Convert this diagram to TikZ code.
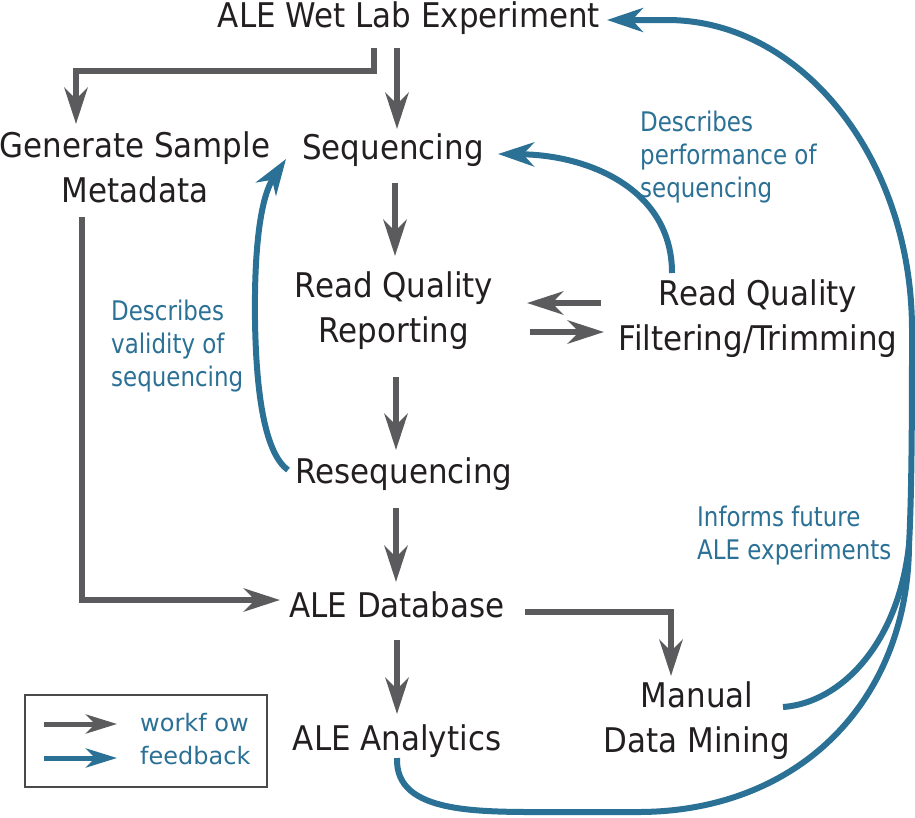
\documentclass[tikz,border=0pt]{standalone}
\usepackage{fontspec}
\setmainfont{DejaVu Sans}
\newfontfamily\mainf{DejaVu Sans}[FakeStretch=0.91]
\newfontfamily\bluef{DejaVu Sans}[FakeStretch=0.85]
\usetikzlibrary{arrows.meta}
\definecolor{wfgray}{HTML}{5B5B5E}
\definecolor{fbblue}{HTML}{2B7095}
\definecolor{txtblack}{HTML}{231F20}
\begin{document}
\begin{tikzpicture}[x=1pt,y=-1pt,
  lbl/.style={font=\mainf\fontsize{34}{45}\selectfont, text=txtblack, inner sep=0pt, align=center, anchor=base},
  note/.style={font=\bluef\fontsize{27}{33}\selectfont, text=fbblue, inner sep=0pt, align=left, anchor=base west},
  leg/.style={font=\fontsize{24}{30}\selectfont, text=fbblue, inner sep=0pt, anchor=base west},
  wf/.style={draw=wfgray, line width=6.5pt, -{Stealth[length=36pt,width=23pt,inset=11pt]}},
  fb/.style={draw=fbblue, line width=6pt, -{Stealth[length=36pt,width=24pt,inset=11pt]}},
  fbline/.style={draw=fbblue, line width=6pt},
  legwf/.style={draw=wfgray, line width=5pt, -{Stealth[length=31pt,width=19pt,inset=9pt]}},
  legfb/.style={draw=fbblue, line width=5pt, -{Stealth[length=31pt,width=19pt,inset=9pt]}}
]
\useasboundingbox (0,0) rectangle (915,817);

% nodes (multi-line nodes: base = baseline of last line)
\node[lbl] (wet) at (409,27) {ALE Wet Lab Experiment};
\node[lbl] (meta) at (135,202) {Generate Sample\\Metadata};
\node[lbl] (seq) at (393,159) {Sequencing};
\node[lbl] (rqr) at (394,342) {Read Quality\\Reporting};
\node[lbl] (rqf) at (758,350) {Read Quality\\Filtering/Trimming};
\node[lbl] (reseq) at (404,483) {Resequencing};
\node[lbl] (db) at (397,617) {ALE Database};
\node[lbl] (ana) at (397,750) {ALE Analytics};
\node[lbl] (mdm) at (697,752) {Manual\\Data Mining};

\node[note] (perf) at (640,197) {Describes\\performance of\\sequencing};
\node[note] (valid) at (111,386) {Describes\\validity of\\sequencing};
\node[note] (inform) at (697,559) {Informs future\\ALE experiments};

% connector end points
\coordinate (wetL) at (374,48);
\coordinate (metaIn) at (76,124);
\coordinate (wetB) at (397,48);
\coordinate (seqIn) at (397,129);
\coordinate (seqOut) at (395,183);
\coordinate (rqrIn) at (395,256);
\coordinate (rqrOut) at (396,377);
\coordinate (reseqIn) at (396,450);
\coordinate (reseqOut) at (396,508);
\coordinate (dbIn) at (396,582);
\coordinate (metaOut) at (82,217);
\coordinate (dbInL) at (280,600);
\coordinate (dbOutR) at (525,612);
\coordinate (mdmIn) at (671,676);
\coordinate (dbOut) at (397,640);
\coordinate (anaIn) at (397,714);
\coordinate (rqfL) at (601,303);
\coordinate (rqrR) at (527,303);
\coordinate (rqrR2) at (530,332);
\coordinate (rqfL2) at (604,332);
\coordinate (rqfTop) at (672,273);
\coordinate (seqR) at (498,154);
\coordinate (reseqL) at (288,470);
\coordinate (seqL) at (286,159);
\coordinate (mdmR) at (783,707);
\coordinate (wetR) at (607,20);
\coordinate (anaB) at (397,758);
\coordinate (merge) at (909,545);

% workflow connectors
\draw[wf] (wetL) -- ++(0,23) -| (metaIn);
\draw[wf] (wetB) -- (seqIn);
\draw[wf] (seqOut) -- (rqrIn);
\draw[wf] (rqrOut) -- (reseqIn);
\draw[wf] (reseqOut) -- (dbIn);
\draw[wf] (metaOut) |- (dbInL);
\draw[wf] (dbOutR) -| (mdmIn);
\draw[wf] (dbOut) -- (anaIn);
\draw[wf] (rqfL) -- (rqrR);
\draw[wf] (rqrR2) -- (rqfL2);

% feedback connectors
\draw[fb] (rqfTop) .. controls (672,190) and (590,155) .. (seqR);
\draw[fb] (reseqL) .. controls (263,452) and (256,385) .. (255,320)
  .. controls (254,240) and (262,195) .. (seqL);
\draw[fbline] (anaB) .. controls (395,815) and (480,812) .. (560,812) -- (640,812)
  .. controls (800,811) and (908,700) .. (merge);
\draw[fb] (mdmR) .. controls (840,703) and (898,645) .. (merge)
  .. controls (912,490) and (912,400) .. (912,330)
  .. controls (912,159) and (802,20) .. (667,20) -- (wetR);

% legend
\draw[draw=wfgray!80!black, line width=1.3pt] (25,695) rectangle (267,787);
\coordinate (lg1a) at (44,724);
\coordinate (lg1b) at (117,724);
\coordinate (lg2a) at (44,758);
\coordinate (lg2b) at (117,758);
\draw[legwf] (lg1a) -- (lg1b);
\draw[legfb] (lg2a) -- (lg2b);
\node[leg] (lw) at (140,731) {workf ow};
\node[leg] (lf) at (140,764) {feedback};
\end{tikzpicture}
\end{document}
